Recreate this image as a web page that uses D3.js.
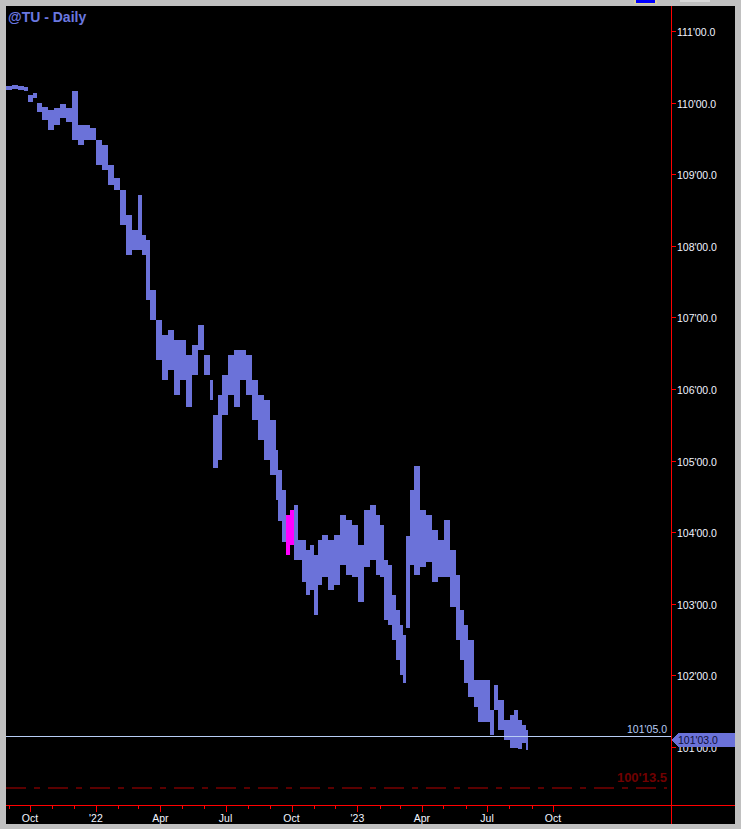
<!DOCTYPE html>
<html><head><meta charset="utf-8">
<script src="https://cdn.jsdelivr.net/npm/d3@7"></script>
<style>body{margin:0;background:#c0c0c0;}svg{display:block;}</style>
</head><body>
<script>
// bar dates, highs and lows (price in points)
var dates = ["2021-08-29","2021-09-06","2021-09-14","2021-09-23","2021-09-28","2021-10-05","2021-10-11","2021-10-18","2021-10-26","2021-11-03",
 "2021-11-12","2021-11-20","2021-11-29","2021-12-07","2021-12-15","2021-12-24","2022-01-01","2022-01-09","2022-01-18","2022-01-26",
 "2022-02-04","2022-02-12","2022-02-20","2022-03-01","2022-03-06","2022-03-12","2022-03-17","2022-03-26","2022-04-03","2022-04-12",
 "2022-04-20","2022-04-28","2022-05-07","2022-05-15","2022-05-23","2022-06-01","2022-06-09","2022-06-13","2022-06-20","2022-06-26",
 "2022-07-04","2022-07-13","2022-07-21","2022-07-29","2022-08-07","2022-08-15","2022-08-24","2022-09-01","2022-09-09","2022-09-12",
 "2022-09-18","2022-09-23","2022-09-29","2022-10-04","2022-10-10","2022-10-16","2022-10-21","2022-10-27","2022-11-01","2022-11-07",
 "2022-11-13","2022-11-21","2022-11-29","2022-12-08","2022-12-16","2022-12-24","2023-01-02","2023-01-10","2023-01-19","2023-01-27",
 "2023-02-01","2023-02-07","2023-02-13","2023-02-18","2023-02-24","2023-03-01","2023-03-06","2023-03-10","2023-03-15","2023-03-21",
 "2023-03-29","2023-04-07","2023-04-15","2023-04-23","2023-05-02","2023-05-10","2023-05-19","2023-05-24","2023-05-30","2023-06-04",
 "2023-06-13","2023-06-18","2023-06-27","2023-07-05","2023-07-11","2023-07-16","2023-07-25","2023-08-02","2023-08-08","2023-08-13",
 "2023-08-19","2023-08-24"];
var highs = [110.23,110.25,110.23,110.22,110.11,110.13,109.99,109.94,109.90,109.92,
 109.98,109.92,110.16,109.69,109.69,109.65,109.48,109.41,109.13,108.95,
 108.78,108.43,108.22,108.71,108.15,108.08,107.38,106.96,106.75,106.82,
 106.68,106.68,106.47,106.61,106.89,106.47,106.13,105.64,105.92,106.20,
 106.47,106.54,106.54,106.47,106.13,105.92,105.85,105.57,105.15,104.87,
 104.59,104.24,104.31,104.38,103.89,103.89,103.75,103.82,103.68,103.89,
 103.96,103.89,103.96,104.24,104.17,104.10,103.82,104.31,104.38,104.24,
 104.10,103.61,103.54,103.12,102.91,102.70,102.56,103.94,104.59,104.92,
 104.31,104.24,104.03,103.89,104.17,103.75,103.40,102.91,102.70,102.49,
 101.94,101.94,101.94,101.52,101.87,101.66,101.38,101.45,101.52,101.38,
 101.31,101.24];
var lows = [110.18,110.19,110.18,110.16,110.01,110.06,109.87,109.76,109.62,109.69,
 109.78,109.73,109.48,109.41,109.48,109.48,109.13,109.06,108.85,108.78,
 108.29,107.87,107.94,107.94,107.87,107.24,106.96,106.41,106.13,106.27,
 105.92,106.13,105.75,106.20,106.54,106.20,105.85,104.90,105.01,105.64,
 105.92,105.75,106.13,105.92,105.57,105.29,105.01,104.80,104.45,104.15,
 103.87,103.68,103.82,103.61,103.61,103.31,103.12,103.19,102.84,103.26,
 103.38,103.19,103.26,103.54,103.40,103.38,103.03,103.52,103.61,103.40,
 103.38,102.77,102.70,102.49,102.22,102.01,101.89,102.66,103.54,103.40,
 103.52,103.59,103.31,103.38,103.38,102.96,102.49,102.22,101.89,101.70,
 101.56,101.35,101.35,101.17,101.52,101.24,101.10,100.98,100.98,100.97,
 101.05,100.96];
var magenta = ["2022-09-23","2022-09-29"];
var lastPrice = 101 + 5/32, targetPrice = 100 + 13.5/32, tagPrice = 101 + 3/32;
var yTicks = [101,102,103,104,105,106,107,108,109,110,111];
var xLabels = [["2021-10-01","Oct"],["2022-01-01","'22"],["2022-04-01","Apr"],["2022-07-01","Jul"],["2022-10-01","Oct"],
 ["2023-01-01","'23"],["2023-04-01","Apr"],["2023-07-01","Jul"],["2023-10-01","Oct"]];

var parse = d3.timeParse("%Y-%m-%d");
var W = 741, H = 829;
var svg = d3.select("body").append("svg").attr("width", W).attr("height", H)
  .attr("shape-rendering","crispEdges");

// window frame
svg.append("rect").attr("width",W).attr("height",H).attr("fill","#c0c0c0");
svg.append("rect").attr("x",634).attr("y",0).attr("width",23).attr("height",4).attr("fill","#d8d0a0");
svg.append("rect").attr("x",636).attr("y",0).attr("width",19).attr("height",3).attr("fill","#0000ff");
svg.append("rect").attr("x",680).attr("y",0).attr("width",30).attr("height",2).attr("fill","#d8d8d8");
svg.append("rect").attr("x",6).attr("y",6).attr("width",729).attr("height",818).attr("fill","#000");

var x = d3.scaleTime().domain([parse("2021-10-01"), parse("2023-10-01")]).range([30, 553]);
var y = d3.scaleLinear().domain([101, 111]).range([747, 31]);

var bars = dates.map(function(d,i){ return {date: parse(d), hi: highs[i], lo: lows[i], mag: magenta.indexOf(d) >= 0}; });

svg.append("g").selectAll("rect").data(bars).enter().append("rect")
  .attr("x", function(d,i){ return Math.round(x(d.date)); })
  .attr("width", function(d,i){ return i < bars.length-1 ? Math.max(1, Math.round(x(bars[i+1].date)) - Math.round(x(d.date))) : 2; })
  .attr("y", function(d){ return y(d.hi); })
  .attr("height", function(d){ return Math.max(1, y(d.lo) - y(d.hi)); })
  .attr("fill", function(d){ return d.mag ? "#ff00ff" : "#6b72d9"; });

// right axis
svg.append("line").attr("x1",671.5).attr("x2",671.5).attr("y1",6).attr("y2",824).attr("stroke","#ff0000");
var ya = svg.append("g");
yTicks.forEach(function(t){
  var yy = Math.round(y(t)) + 0.5;
  ya.append("line").attr("x1",671).attr("x2",676).attr("y1",yy).attr("y2",yy).attr("stroke","#ff0000");
  ya.append("text").attr("x",677).attr("y",yy+4).text(t+"'00.0")
    .attr("fill","#f0f4ff").attr("font-family","Liberation Sans, Arial").attr("font-size",10.5);
});

// bottom axis
svg.append("line").attr("x1",6).attr("x2",735).attr("y1",805.5).attr("y2",805.5).attr("stroke","#ff0000");
var months = d3.timeMonth.range(parse("2021-09-01"), parse("2023-11-01"));
svg.append("g").selectAll("line").data(months).enter().append("line")
  .attr("x1", function(d){ return Math.round(x(d))+0.5; }).attr("x2", function(d){ return Math.round(x(d))+0.5; })
  .attr("y1",805).attr("y2", function(d){ return d.getMonth()%3==0 ? 812 : 809; })
  .attr("stroke","#ff0000");
svg.append("g").selectAll("text").data(xLabels).enter().append("text")
  .attr("x", function(d){ return x(parse(d[0])); }).attr("y",822).attr("text-anchor","middle")
  .text(function(d){ return d[1]; })
  .attr("fill","#f0f4ff").attr("font-family","Liberation Sans, Arial").attr("font-size",10.5);

// last price line
var ly = Math.round(y(lastPrice)) + 0.5;
svg.append("line").attr("x1",6).attr("x2",671).attr("y1",ly).attr("y2",ly).attr("stroke","#b8cdf5");
svg.append("text").attr("x",667).attr("y",ly-4).attr("text-anchor","end").text("101'05.0")
  .attr("fill","#b8cdf5").attr("font-family","Liberation Sans, Arial").attr("font-size",10.5);

// target line
var gy = Math.round(y(targetPrice));
svg.append("line").attr("x1",6).attr("x2",667).attr("y1",gy).attr("y2",gy)
  .attr("stroke","#5a0000").attr("stroke-width",2).attr("stroke-dasharray","20,8,6,8");
svg.append("text").attr("x",667).attr("y",gy-6).attr("text-anchor","end").text("100'13.5")
  .attr("fill","#700000").attr("font-weight","bold").attr("font-family","Liberation Sans, Arial").attr("font-size",13);

// price tag
var ty = Math.round(y(tagPrice));
svg.append("path").attr("d","M672,"+ty+" L678,"+(ty-7)+" L735,"+(ty-7)+" L735,"+(ty+7)+" L678,"+(ty+7)+" Z").attr("fill","#6b72d9");
svg.append("text").attr("x",678).attr("y",ty+4).text("101'03.0")
  .attr("fill","#10103a").attr("font-family","Liberation Sans, Arial").attr("font-size",10.5);

// title
svg.append("text").attr("x",8).attr("y",22).text("@TU - Daily")
  .attr("fill","#6b78e0").attr("font-weight","bold").attr("font-family","Liberation Sans, Arial").attr("font-size",14);
</script>
</body></html>
